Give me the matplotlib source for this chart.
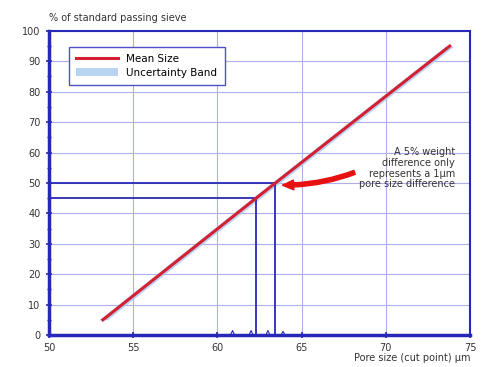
import matplotlib
matplotlib.use("Agg")
from matplotlib import pyplot as plt
import numpy as np

# data
mean_x = [53.2, 62.3, 63.45, 73.8]
mean_y = [5, 45, 50, 95]
band_halfwidth = 0.25

marker_x = [62.3, 63.45]
marker_y = [45, 50]

spike_x = [60.9, 62.0, 63.0, 63.9]
spike_h = [1.5, 1.5, 1.5, 1.2]

xticks = [50, 55, 60, 65, 70, 75]
yticks = [0, 10, 20, 30, 40, 50, 60, 70, 80, 90, 100]

note = "A 5% weight\ndifference only\nrepresents a 1\u00b5m\npore size difference"

frame = "#2828b8"
grid = "#aeaeea"
txt = "#333333"

fig = plt.figure(figsize=(4.85, 3.67), dpi=100)
ax = fig.add_axes([0.101, 0.087, 0.868, 0.829])

ax.set_xlim(50, 75)
ax.set_ylim(0, 100)
ax.set_xticks(xticks)
ax.set_yticks(yticks)
ax.set_yticks(np.arange(5, 100, 10), minor=True)
ax.grid(True, color=grid, lw=0.8)
ax.set_axisbelow(True)

for s in ax.spines.values():
    s.set_color(frame)
    s.set_linewidth(1.5)
ax.spines['left'].set_linewidth(2.5)
ax.spines['bottom'].set_linewidth(2.5)
ax.tick_params(which='both', direction='inout', color=frame, labelcolor=txt, labelsize=7)
ax.tick_params(which='major', length=5, width=1.2)
ax.tick_params(which='minor', length=3, width=1)

# uncertainty band + mean line
mx = np.array(mean_x)
ax.fill_betweenx(mean_y, mx - band_halfwidth, mx + band_halfwidth,
                 color="#a8c8f0", alpha=0.8, lw=0, label="Uncertainty Band")
ax.plot(mean_x, mean_y, color="#d42030", lw=2.2, label="Mean Size", zorder=3)

# guide lines at 45 and 50 %
for xv, yv in zip(marker_x, marker_y):
    ax.plot([50, xv], [yv, yv], color=frame, lw=1.3, zorder=2)
    ax.plot([xv, xv], [0, yv], color=frame, lw=1.3, zorder=2)

# small spikes on the baseline
for xv, h in zip(spike_x, spike_h):
    ax.plot([xv - 0.12, xv, xv + 0.12], [0, h, 0], color=frame, lw=0.8)

handles, labels = ax.get_legend_handles_labels()
leg = ax.legend(handles[::-1], labels[::-1], loc='upper left',
                bbox_to_anchor=(0.035, 0.965), fontsize=7.5, fancybox=False,
                framealpha=1, edgecolor="#5050c8", handlelength=4,
                borderpad=0.7, labelspacing=0.35)
leg.get_frame().set_linewidth(1)

ax.text(74.1, 61.8, note, ha='right', va='top', fontsize=7,
        color=txt, linespacing=1.1)
ax.annotate("", xy=(63.7, 49.3), xytext=(68.3, 53.8),
            arrowprops=dict(arrowstyle="simple,head_width=0.7,head_length=0.8,tail_width=0.3",
                            color="#e81010", connectionstyle="arc3,rad=-0.1"))

ax.text(0, 1.025, "% of standard passing sieve", transform=ax.transAxes,
        fontsize=7, color=txt, ha='left', va='bottom')
fig.text(0.97, 0.01, "Pore size (cut point) \u00b5m", ha='right', va='bottom',
         fontsize=7, color=txt)

fig.savefig("out.png", dpi=100)
